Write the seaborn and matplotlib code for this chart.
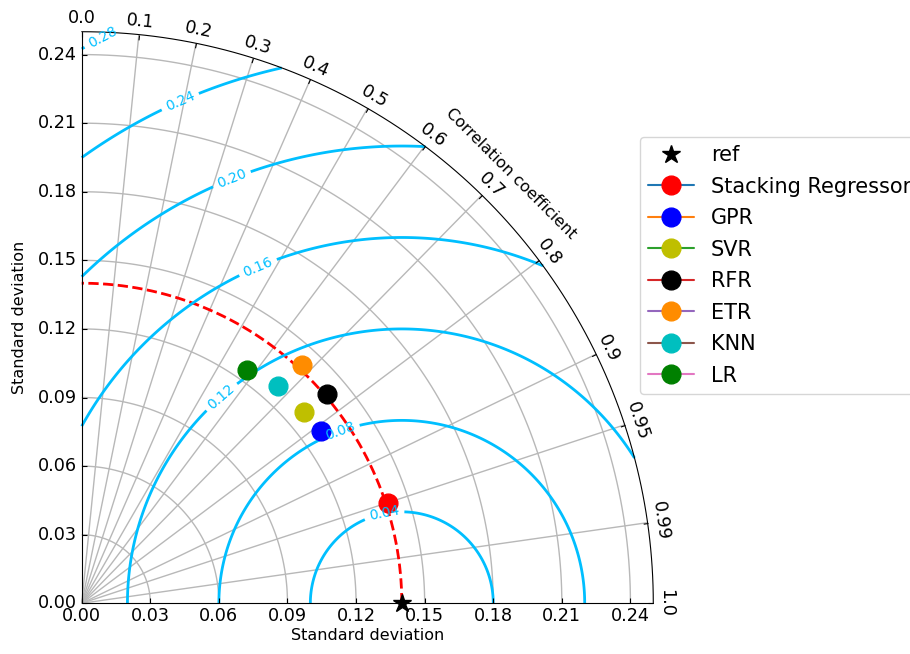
import numpy as np
import matplotlib
matplotlib.use("Agg")
import matplotlib.pyplot as plt
import seaborn as sns
from matplotlib.projections import PolarAxes
import mpl_toolkits.axisartist.floating_axes as FA
import mpl_toolkits.axisartist.grid_finder as GF

# 데이터
ref_std = 0.14
models = ["Stacking Regressor", "GPR", "SVR", "RFR", "ETR", "KNN", "LR"]
stds = [0.141, 0.129, 0.128, 0.141, 0.142, 0.128, 0.125]
corrs = [0.950, 0.811, 0.758, 0.760, 0.680, 0.670, 0.580]
marker_colors = ["r", "b", "y", "k", "darkorange", "c", "g"]
corr_ticks = [0.0, 0.1, 0.2, 0.3, 0.4, 0.5, 0.6, 0.7, 0.8, 0.9, 0.95, 0.99, 1.0]
std_ticks = [0.00, 0.03, 0.06, 0.09, 0.12, 0.15, 0.18, 0.21, 0.24]
rms_levels = [0.04, 0.08, 0.12, 0.16, 0.20, 0.24, 0.28]
# 등고선 라벨 위치 (theta, r)
label_pos = [(0.289, 0.138), (0.593, 0.136), (0.974, 0.109), (1.088, 0.166),
             (1.227, 0.196), (1.378, 0.224), (1.535, 0.248)]
std_max = 0.25

sns.set_style("white")
plt.rcParams['font.family'] = ['DejaVu Sans']
plt.rcParams.update({'text.color': 'black', 'axes.labelcolor': 'black',
                     'xtick.color': 'black', 'ytick.color': 'black',
                     'axes.edgecolor': 'black'})
line_colors = sns.color_palette("tab10")

# 그리드 헬퍼 (상관계수 / 표준편차)
tr = PolarAxes.PolarTransform(apply_theta_transforms=False)
t_locs = np.arccos(corr_ticks)
gl1 = GF.FixedLocator(t_locs)
tf1 = GF.DictFormatter(dict(zip(t_locs, map(str, corr_ticks))))
gl2 = GF.FixedLocator(std_ticks)
tf2 = GF.DictFormatter({s: f"{s:.2f}" for s in std_ticks})
ghelper = FA.GridHelperCurveLinear(tr, extremes=(0, np.pi / 2, 0, std_max),
                                   grid_locator1=gl1, tick_formatter1=tf1,
                                   grid_locator2=gl2, tick_formatter2=tf2)

fig = plt.figure(figsize=(9.1, 6.54), dpi=100)
ax = fig.add_axes([76 / 910, 45 / 654, 583 / 910, 583 / 654],
                  axes_class=FA.FloatingAxes, grid_helper=ghelper)

ax.axis["top"].set_axis_direction("bottom")
ax.axis["top"].toggle(ticklabels=True, label=True)
ax.axis["top"].major_ticklabels.set_axis_direction("top")
ax.axis["top"].label.set_axis_direction("top")
ax.axis["top"].label.set_text("Correlation coefficient")

ax.axis["left"].set_axis_direction("bottom")
ax.axis["left"].label.set_text("Standard deviation")

ax.axis["right"].set_axis_direction("top")
ax.axis["right"].toggle(ticklabels=True, label=True)
ax.axis["right"].major_ticklabels.set_axis_direction("left")
ax.axis["right"].label.set_axis_direction("left")
ax.axis["right"].label.set_text("Standard deviation")
ax.axis["bottom"].set_visible(False)

for k in ["top", "left", "right"]:
    ax.axis[k].major_ticklabels.set_fontsize(12.7)
    ax.axis[k].label.set_fontsize(11.5)
ax.axis["top"].major_ticklabels.set_pad(6)
ax.axis["right"].label.set_pad(8)

ax.grid(True, color='#b8b8b8', linewidth=1)

aux = ax.get_aux_axes(tr)

# 기준점 및 기준 표준편차 원
aux.plot([0], [ref_std], 'k*', ms=13.5, label='ref', clip_on=False, zorder=5)
t = np.linspace(0, np.pi / 2, 200)
aux.plot(t, np.full_like(t, ref_std), 'r--', lw=2)

# 모델 점
for name, s, c, mc, lc in zip(models, stds, corrs, marker_colors, line_colors):
    aux.plot(np.arccos(c), s, marker='o', ms=13.5, mfc=mc, mec=mc,
             color=lc, label=name, zorder=4)

# RMS 등고선
rs, ts = np.meshgrid(np.linspace(0, std_max, 300), np.linspace(0, np.pi / 2, 300))
rms = np.sqrt(ref_std ** 2 + rs ** 2 - 2 * ref_std * rs * np.cos(ts))
cs = aux.contour(ts, rs, rms, levels=rms_levels, colors='#00BFFF', linewidths=2)
aux.clabel(cs, inline=True, fontsize=10, fmt='%.2f', manual=label_pos)

handles, labels = aux.get_legend_handles_labels()
fig.legend(handles, labels, numpoints=1, prop=dict(size=15),
           labelspacing=0.55, handlelength=2.2, borderaxespad=0,
           loc='upper left', bbox_to_anchor=(640 / 910, 1 - 137 / 654))

fig.savefig("out.png", dpi=100)
